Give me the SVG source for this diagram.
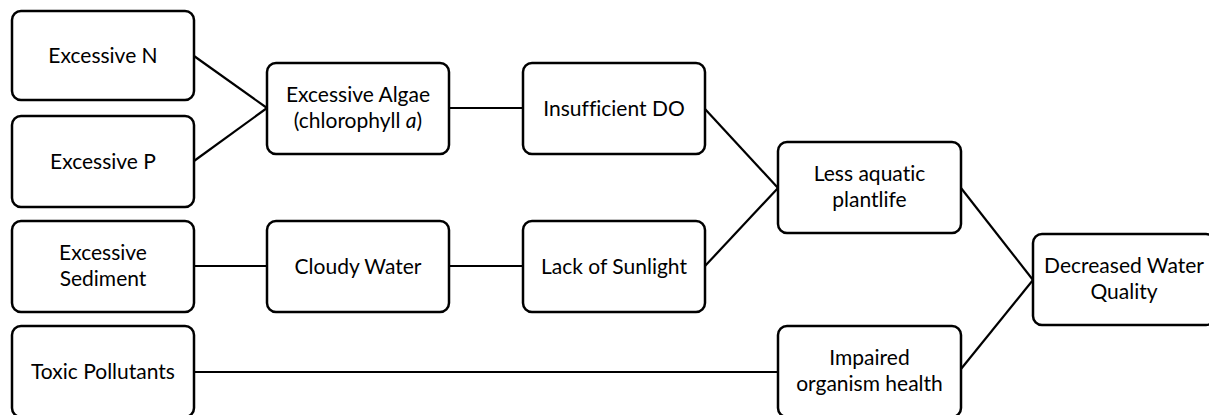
<svg xmlns="http://www.w3.org/2000/svg" width="1209" height="415" viewBox="0 0 1209 415">
<style>
rect.box{fill:#fff;stroke:#000;stroke-width:2.5}
text{font-family:Lato,"Liberation Sans",sans-serif;font-size:21px;fill:#000;text-anchor:middle;font-variant-ligatures:none}
.conn line{stroke:#000;stroke-width:2.2}
</style>
<rect width="1209" height="415" fill="#fff"/>
<g class="conn" id="connectors">
<line x1="194" y1="56" x2="267" y2="108"/>
<line x1="194" y1="161" x2="267" y2="108"/>
<line x1="449" y1="108" x2="523" y2="108"/>
<line x1="705" y1="109" x2="778" y2="188"/>
<line x1="194" y1="266" x2="267" y2="266"/>
<line x1="449" y1="266" x2="523" y2="266"/>
<line x1="705" y1="266" x2="778" y2="188"/>
<line x1="961" y1="188" x2="1033" y2="280"/>
<line x1="961" y1="369" x2="1033" y2="280"/>
<line x1="194" y1="372" x2="778" y2="372"/>
</g>
<g id="n_excessive_n"><rect class="box" x="12" y="11" width="182" height="89" rx="9"/><text x="103" y="63">Excessive N</text></g>
<g id="n_excessive_p"><rect class="box" x="12" y="116" width="182" height="91" rx="9"/><text x="103" y="169">Excessive P</text></g>
<g id="n_algae"><rect class="box" x="267" y="63" width="182" height="91" rx="9"/><text x="358" y="102">Excessive Algae</text><text x="358" y="128">(chlorophyll <tspan font-style="italic">a</tspan>)</text></g>
<g id="n_do"><rect class="box" x="523" y="63" width="182" height="91" rx="9"/><text x="614" y="116">Insufficient DO</text></g>
<g id="n_sediment"><rect class="box" x="12" y="221" width="182" height="91" rx="9"/><text x="103" y="260">Excessive</text><text x="103" y="286">Sediment</text></g>
<g id="n_cloudy"><rect class="box" x="267" y="221" width="182" height="91" rx="9"/><text x="358" y="274">Cloudy Water</text></g>
<g id="n_sunlight"><rect class="box" x="523" y="221" width="182" height="91" rx="9"/><text x="614" y="274">Lack of Sunlight</text></g>
<g id="n_plantlife"><rect class="box" x="778" y="142" width="183" height="91" rx="9"/><text x="869.5" y="181">Less aquatic</text><text x="869.5" y="207">plantlife</text></g>
<g id="n_quality"><rect class="box" x="1033" y="234" width="182" height="91" rx="9"/><text x="1124" y="273">Decreased Water</text><text x="1124" y="299">Quality</text></g>
<g id="n_toxic"><rect class="box" x="12" y="326" width="182" height="91" rx="9"/><text x="103" y="379">Toxic Pollutants</text></g>
<g id="n_impaired"><rect class="box" x="778" y="326" width="183" height="91" rx="9"/><text x="869.5" y="365">Impaired</text><text x="869.5" y="391">organism health</text></g>
</svg>
